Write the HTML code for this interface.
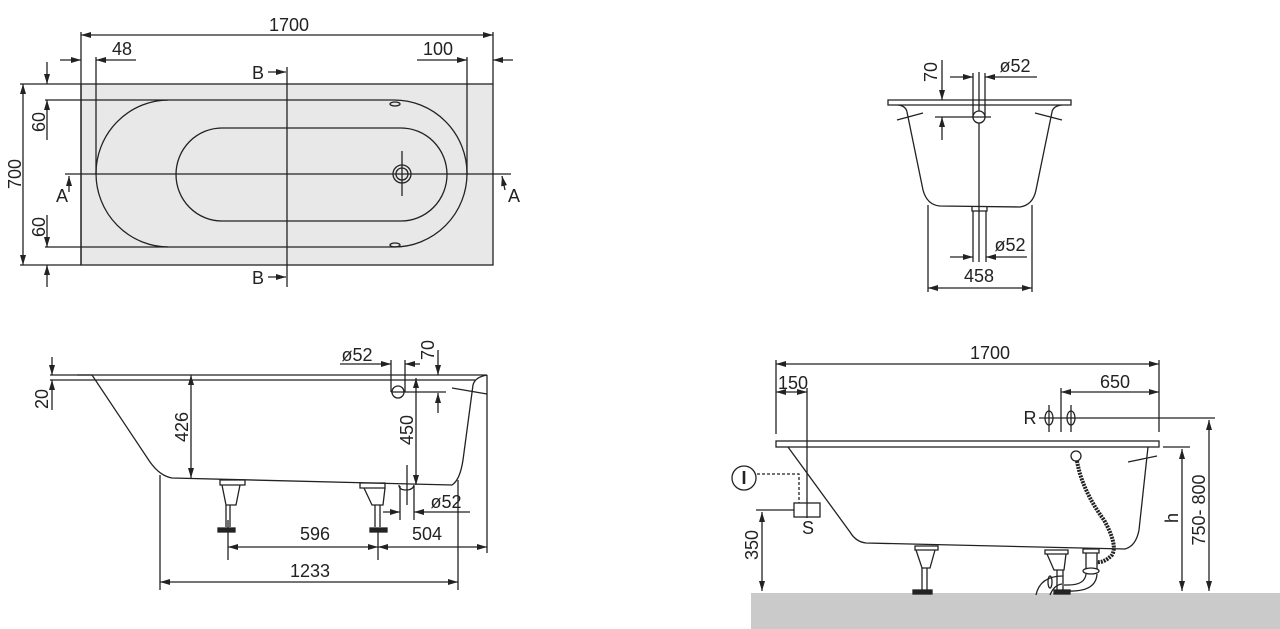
<!DOCTYPE html>
<html><head><meta charset="utf-8"><style>
html,body{margin:0;padding:0;background:#fff;width:1280px;height:629px;overflow:hidden}
svg{display:block}
text{font-family:"Liberation Sans",sans-serif;font-size:18px;fill:#222}
</style></head><body>
<svg width="1280" height="629" viewBox="0 0 1280 629" xmlns="http://www.w3.org/2000/svg">
<defs>
<marker id="a" viewBox="0 0 10 6" refX="10" refY="3" markerWidth="10" markerHeight="6" markerUnits="userSpaceOnUse" orient="auto-start-reverse"><path d="M0,0L10,3L0,6z" fill="#222"/></marker>
</defs>
<g stroke="#222" stroke-width="1.3" fill="none">
<rect x="81" y="84" width="412" height="181" fill="#e8e8e8" stroke="#222"/>
<line x1="81" y1="35" x2="493" y2="35" marker-start="url(#a)" marker-end="url(#a)"/>
<line x1="81" y1="32" x2="81" y2="265"/>
<line x1="493" y1="32" x2="493" y2="84"/>
<line x1="60" y1="60" x2="81" y2="60" marker-end="url(#a)"/>
<line x1="136" y1="60" x2="96" y2="60" marker-end="url(#a)"/>
<line x1="96" y1="57" x2="96" y2="175"/>
<line x1="417" y1="60" x2="467" y2="60" marker-end="url(#a)"/>
<line x1="513" y1="60" x2="493" y2="60" marker-end="url(#a)"/>
<line x1="467" y1="57" x2="467" y2="175"/>
<line x1="45" y1="100" x2="168" y2="100"/>
<line x1="45" y1="247" x2="168" y2="247"/>
<rect x="96" y="100" width="371" height="147" rx="73" ry="73.5"/>
<rect x="176" y="128" width="271" height="93" rx="46" ry="46.5"/>
<circle cx="402" cy="174" r="9"/><circle cx="402" cy="174" r="6"/>
<line x1="402" y1="151" x2="402" y2="196"/>
<ellipse cx="395" cy="104" rx="5" ry="2"/><ellipse cx="395" cy="245" rx="5" ry="2"/>
<line x1="65" y1="174" x2="511" y2="174"/>
<line x1="69" y1="192" x2="69" y2="176" marker-end="url(#a)"/>
<line x1="505" y1="190" x2="502" y2="176" marker-end="url(#a)"/>
<line x1="287" y1="67" x2="287" y2="287"/>
<line x1="268" y1="72" x2="286" y2="72" marker-end="url(#a)"/>
<line x1="268" y1="277" x2="286" y2="277" marker-end="url(#a)"/>
<line x1="20" y1="84" x2="81" y2="84"/><line x1="20" y1="265" x2="81" y2="265"/>
<line x1="23" y1="84" x2="23" y2="265" marker-start="url(#a)" marker-end="url(#a)"/>
<line x1="47" y1="62" x2="47" y2="84" marker-end="url(#a)"/>
<line x1="47" y1="140" x2="47" y2="100" marker-end="url(#a)"/>
<line x1="47" y1="215" x2="47" y2="247" marker-end="url(#a)"/>
<line x1="47" y1="287" x2="47" y2="265" marker-end="url(#a)"/>

<line x1="50" y1="375" x2="487" y2="375"/>
<line x1="50" y1="380" x2="475" y2="380"/>
<line x1="487" y1="375" x2="487" y2="553"/>
<path d="M77,375 L92,375 L150,462 Q160,476 172,478 L452,485 Q460,480 463,460 L473,385 Q475,377 487,375"/>
<line x1="52" y1="357" x2="52" y2="375" marker-end="url(#a)"/>
<line x1="52" y1="410" x2="52" y2="380" marker-end="url(#a)"/>
<line x1="191" y1="375" x2="191" y2="478" marker-start="url(#a)" marker-end="url(#a)"/>
<line x1="416" y1="378" x2="416" y2="485" marker-start="url(#a)" marker-end="url(#a)"/>
<line x1="340" y1="364" x2="391" y2="364" marker-end="url(#a)"/>
<line x1="420" y1="364" x2="405" y2="364" marker-end="url(#a)"/>
<line x1="391" y1="360" x2="391" y2="392"/><line x1="405" y1="360" x2="405" y2="392"/>
<circle cx="398" cy="392" r="6"/>
<line x1="391" y1="392" x2="446" y2="392"/>
<line x1="438" y1="350" x2="438" y2="375" marker-end="url(#a)"/>
<line x1="438" y1="413" x2="438" y2="393" marker-end="url(#a)"/>
<line x1="452" y1="388" x2="487" y2="394"/>
<path d="M220,480h25v5h-25z"/><path d="M222,485L226,505H236L240,485"/><path d="M226,505v22M230,505v22"/>
<rect x="218" y="528" width="17" height="4" fill="#222"/>
<path d="M360,483h25v5h-25z"/><path d="M364,488L372,505H383L385,488"/><path d="M375,505v22M380,505v22"/>
<rect x="370" y="528" width="17" height="4" fill="#222"/>
<path d="M399,485q0,5 7,5q7,0 8,-5"/>
<line x1="407" y1="465" x2="407" y2="505"/>
<line x1="400" y1="486" x2="400" y2="520"/><line x1="414" y1="486" x2="414" y2="520"/>
<line x1="383" y1="512" x2="400" y2="512" marker-end="url(#a)"/>
<line x1="470" y1="512" x2="414" y2="512" marker-end="url(#a)"/>
<line x1="228" y1="520" x2="228" y2="560"/><line x1="378" y1="530" x2="378" y2="560"/>
<line x1="228" y1="547" x2="378" y2="547" marker-start="url(#a)" marker-end="url(#a)"/>
<line x1="378" y1="547" x2="487" y2="547" marker-start="url(#a)" marker-end="url(#a)"/>
<line x1="160" y1="475" x2="160" y2="590"/><line x1="458" y1="480" x2="458" y2="590"/>
<line x1="160" y1="582" x2="458" y2="582" marker-start="url(#a)" marker-end="url(#a)"/>

<path d="M888,100H1071V105H888z"/>
<path d="M898,105Q906,106 907,112L923,190Q927,205 940,206L1020,207Q1033,205 1036,190L1052,112Q1053,106 1062,105"/>
<line x1="897" y1="120" x2="923" y2="113"/><line x1="1035" y1="113" x2="1062" y2="120"/>
<line x1="979" y1="72" x2="979" y2="262"/>
<line x1="973" y1="73" x2="973" y2="118"/><line x1="985" y1="73" x2="985" y2="118"/>
<circle cx="979" cy="117" r="6" fill="#fff"/>
<path d="M972,207v4h15v-4"/>
<line x1="973" y1="211" x2="973" y2="262"/><line x1="986" y1="211" x2="986" y2="262"/>
<line x1="942" y1="60" x2="942" y2="100" marker-end="url(#a)"/>
<line x1="942" y1="140" x2="942" y2="117" marker-end="url(#a)"/>
<line x1="935" y1="117" x2="991" y2="117"/>
<line x1="950" y1="77" x2="973" y2="77" marker-end="url(#a)"/>
<line x1="1037" y1="77" x2="985" y2="77" marker-end="url(#a)"/>
<line x1="950" y1="257" x2="973" y2="257" marker-end="url(#a)"/>
<line x1="1027" y1="257" x2="986" y2="257" marker-end="url(#a)"/>
<line x1="928" y1="205" x2="928" y2="292"/><line x1="1032" y1="205" x2="1032" y2="292"/>
<line x1="928" y1="288" x2="1032" y2="288" marker-start="url(#a)" marker-end="url(#a)"/>

<rect x="751" y="593" width="529" height="36" fill="#cacaca" stroke="none"/>
<line x1="776" y1="360" x2="776" y2="434"/><line x1="1159" y1="360" x2="1159" y2="432"/>
<line x1="776" y1="364" x2="1159" y2="364" marker-start="url(#a)" marker-end="url(#a)"/>
<line x1="776" y1="392" x2="807" y2="392" marker-start="url(#a)" marker-end="url(#a)"/>
<line x1="807" y1="388" x2="807" y2="518"/>
<line x1="1061" y1="388" x2="1061" y2="432"/>
<line x1="1061" y1="392" x2="1159" y2="392" marker-start="url(#a)" marker-end="url(#a)"/>
<line x1="1039" y1="418" x2="1215" y2="418"/>
<ellipse cx="1049" cy="418" rx="4" ry="7"/><ellipse cx="1071" cy="418" rx="4" ry="7"/>
<line x1="1049" y1="405" x2="1049" y2="432"/><line x1="1071" y1="405" x2="1071" y2="432"/>
<rect x="776" y="441" width="383" height="6"/>
<path d="M788,447L850,532Q856,542 866,543L1125,549Q1136,546 1139,530L1148,447"/>
<line x1="1128" y1="462" x2="1157" y2="456"/>
<line x1="1163" y1="447" x2="1190" y2="447"/>
<line x1="1182" y1="449" x2="1182" y2="591" marker-start="url(#a)" marker-end="url(#a)"/>
<line x1="1209" y1="420" x2="1209" y2="591" marker-start="url(#a)" marker-end="url(#a)"/>
<line x1="756" y1="510" x2="820" y2="510"/>
<line x1="762" y1="512" x2="762" y2="591" marker-start="url(#a)" marker-end="url(#a)"/>
<rect x="794" y="503" width="26" height="14" fill="#fff"/>
<line x1="807" y1="503" x2="807" y2="517"/>
<circle cx="744" cy="478" r="12"/>
<path d="M757,474H799V503" stroke-dasharray="3,2"/>
<circle cx="1076" cy="456" r="5"/>
<path d="M1077,461Q1082,490 1104,520Q1118,545 1112,555Q1104,563 1097,562" stroke-width="4" stroke-dasharray="2,1"/>
<path d="M915,546h23v4h-23z"/><path d="M916,550L922,568H930L935,550"/><path d="M922,568v22M927,568v22"/>
<rect x="913" y="590" width="19" height="4" fill="#222"/>
<path d="M1045,550h23v4h-23z"/><path d="M1047,554L1054,570H1064L1066,554"/><path d="M1057,570v20M1063,570v20"/>
<rect x="1054" y="590" width="16" height="4" fill="#222"/>
<path d="M1083,549h16v4h-16z"/><path d="M1086,553v16M1097,553v16"/>
<ellipse cx="1091" cy="571" rx="8" ry="3"/>
<path d="M1086,574Q1085,585 1068,585L1064,585M1097,574Q1096,592 1068,591"/>
<path d="M1036,595Q1040,576 1063,576M1050,595Q1054,585 1062,584"/>
<ellipse cx="1050" cy="582" rx="2" ry="6"/>
</g>
<g>
<text x="289" y="31" text-anchor="middle">1700</text>
<text x="122" y="55" text-anchor="middle">48</text>
<text x="438" y="55" text-anchor="middle">100</text>
<text x="258" y="79" text-anchor="middle">B</text>
<text x="258" y="284" text-anchor="middle">B</text>
<text x="62" y="202" text-anchor="middle">A</text>
<text x="514" y="202" text-anchor="middle">A</text>
<text transform="translate(21,174) rotate(-90)" text-anchor="middle">700</text>
<text transform="translate(45,122) rotate(-90)" text-anchor="middle">60</text>
<text transform="translate(45,227) rotate(-90)" text-anchor="middle">60</text>
<text transform="translate(48,399) rotate(-90)" text-anchor="middle">20</text>
<text transform="translate(188,427) rotate(-90)" text-anchor="middle">426</text>
<text transform="translate(413,430) rotate(-90)" text-anchor="middle">450</text>
<text transform="translate(434,350) rotate(-90)" text-anchor="middle">70</text>
<text x="357" y="361" text-anchor="middle">ø52</text>
<text x="446" y="508" text-anchor="middle">ø52</text>
<text x="315" y="540" text-anchor="middle">596</text>
<text x="427" y="540" text-anchor="middle">504</text>
<text x="310" y="577" text-anchor="middle">1233</text>
<text transform="translate(937,72) rotate(-90)" text-anchor="middle">70</text>
<text x="1015" y="72" text-anchor="middle">ø52</text>
<text x="1010" y="251" text-anchor="middle">ø52</text>
<text x="979" y="282" text-anchor="middle">458</text>
<text x="990" y="359" text-anchor="middle">1700</text>
<text x="793" y="389" text-anchor="middle">150</text>
<text x="1115" y="388" text-anchor="middle">650</text>
<text x="1030" y="424" text-anchor="middle">R</text>
<text x="808" y="534" text-anchor="middle">S</text>
<text x="744" y="484" text-anchor="middle" style="font-weight:bold">I</text>
<text transform="translate(758,545) rotate(-90)" text-anchor="middle">350</text>
<text transform="translate(1178,518) rotate(-90)" text-anchor="middle">h</text>
<text transform="translate(1205,510) rotate(-90)" text-anchor="middle">750- 800</text>
</g>
</svg>
</body></html>
